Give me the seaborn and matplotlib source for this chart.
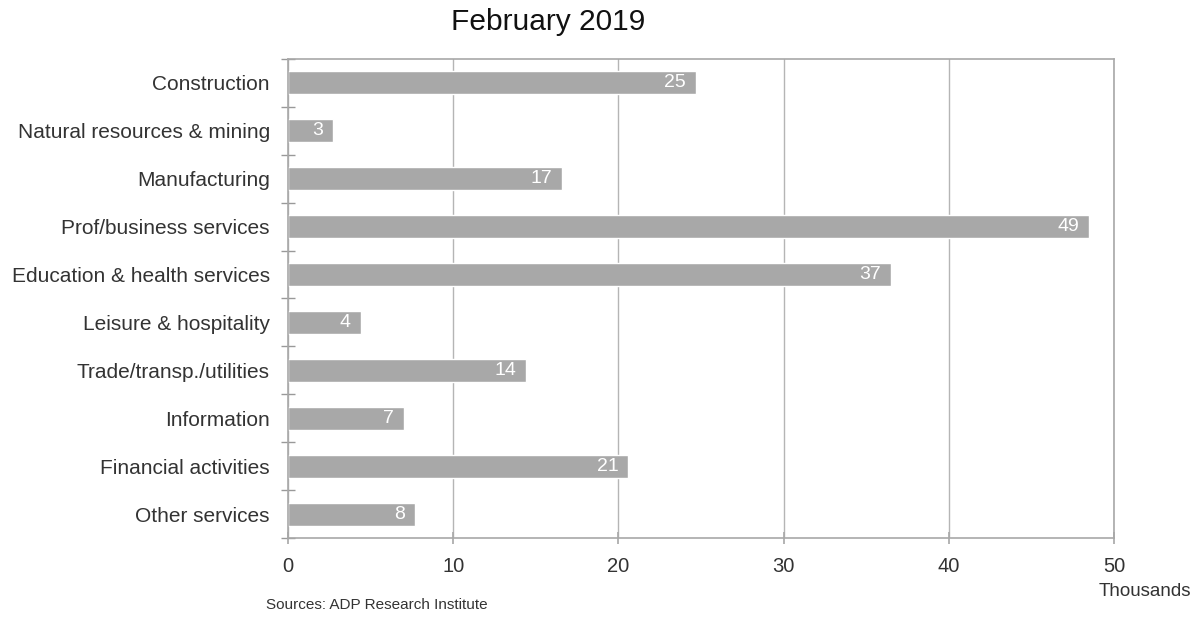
import matplotlib
matplotlib.use("Agg")
import matplotlib.pyplot as plt
import seaborn as sns
import pandas as pd
import numpy as np

categories = ["Construction", "Natural resources & mining", "Manufacturing",
              "Prof/business services", "Education & health services",
              "Leisure & hospitality", "Trade/transp./utilities", "Information",
              "Financial activities", "Other services"]
values = [24.7, 2.7, 16.6, 48.5, 36.5, 4.4, 14.4, 7.0, 20.6, 7.7]
labels = ["25", "3", "17", "49", "37", "4", "14", "7", "21", "8"]
x_ticks = [0, 10, 20, 30, 40, 50]
title = "February 2019"
unit_label = "Thousands"
source = "Sources: ADP Research Institute"

sns.set_theme(style="white")
plt.rcParams['font.family'] = ['Liberation Sans', 'DejaVu Sans']

df = pd.DataFrame({"category": categories, "value": values})

fig = plt.figure(figsize=(12, 6.21), dpi=100)
ax = fig.add_axes([0.24, 0.1337, 0.6883, 0.7713])

sns.barplot(data=df, y="category", x="value", color="#a8a8a8", saturation=1,
            width=0.48, ax=ax, orient="h")

for p, lab in zip(ax.patches, labels):
    xe = p.get_x() + p.get_width()
    yc = p.get_y() + p.get_height() / 2
    ax.text(xe - 0.6, yc, lab, color="white", ha="right", va="center", fontsize=14)

ax.set_xlim(0, 50)
ax.set_ylim(len(categories) - 0.5, -0.5)
ax.set_xticks(x_ticks)
ax.set_xticklabels([str(t) for t in x_ticks], fontsize=14.5, color="#333333")
ax.set_xlabel("")
ax.set_ylabel("")
ax.set_yticks(np.arange(len(categories)))
ax.set_yticks(np.arange(len(categories) + 1) - 0.5, minor=True)
ax.tick_params(axis="y", which="major", left=False, length=0, labelsize=15,
               labelcolor="#333333", pad=13)
ax.tick_params(axis="y", which="minor", left=True, length=10, direction="inout",
               color="#999999", width=1)
ax.tick_params(axis="x", which="major", bottom=True, length=8, direction="inout",
               color="#aaaaaa", pad=10)
ax.xaxis.grid(True, color="#b5b5b5", linewidth=1)
ax.set_axisbelow(True)
for s in ax.spines.values():
    s.set_visible(True)
    s.set_color("#a8a8a8")
    s.set_linewidth(1.2)

fig.text(548 / 1200, 1 - 22 / 621, title, ha="center", va="center", fontsize=21.5, color="#111111")
fig.text(1145 / 1200, 1 - 592 / 621, unit_label, ha="center", va="center", fontsize=13.5, color="#333333")
fig.text(266 / 1200, 1 - 605 / 621, source, ha="left", va="center", fontsize=11, color="#333333")

fig.savefig("out.png", dpi=100, facecolor="white")
